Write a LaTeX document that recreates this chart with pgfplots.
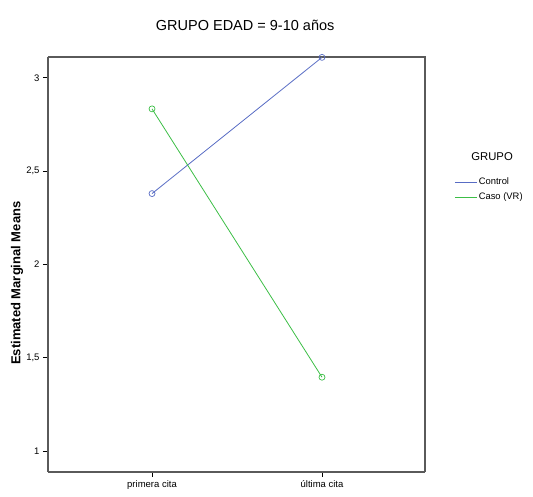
\documentclass[border=0pt]{standalone}
\usepackage{pgfplots}
\pgfplotsset{compat=1.18}
\usepackage{fontspec}
\setmainfont{Liberation Sans}
\definecolor{ctrl}{RGB}{88,108,196}
\definecolor{caso}{RGB}{60,190,70}
\definecolor{axgray}{RGB}{90,90,90}
\begin{document}
\begin{tikzpicture}[x=1pt,y=1pt]
\begin{axis}[
  name=ax,
  scale only axis, width=377pt, height=415pt,
  xmin=-0.612, xmax=1.606,
  ymin=0.888, ymax=3.112,
  xtick={0,1}, xticklabels={primera cita, última cita},
  ytick={1,1.5,2,2.5,3},
  /pgf/number format/use comma,
  /pgf/number format/assume math mode=true,
  tick label style={font=\fontsize{9.5}{11}\selectfont, text=black},
  axis line style={axgray, line width=1.3pt},
  axis x line*=bottom, axis y line*=left,
  tick align=outside, major tick length=5pt,
  tick style={black, line width=0.8pt},
  clip=false,
  legend style={at={(1.075,0.715)}, anchor=north west, draw=none, fill=none,
    font=\fontsize{9.4}{11}\selectfont, row sep=3.5pt, inner sep=1pt,
    nodes={inner sep=1.5pt}},
  legend cell align=left,
]
\draw[axgray, line width=1.3pt] (rel axis cs:0,1) -- (rel axis cs:1,1) -- (rel axis cs:1,0);
\addplot[ctrl, line width=0.8pt, mark=o, mark size=3pt, mark options={line width=0.7pt}, forget plot]
  coordinates {(0,2.38) (1,3.11)};
\addplot[caso, line width=0.8pt, mark=o, mark size=3pt, mark options={line width=0.7pt}, forget plot]
  coordinates {(0,2.834) (1,1.396)};
\addlegendimage{legend image code/.code={\draw[ctrl, line width=0.8pt] (0pt,0pt) -- (22pt,0pt);}}
\addlegendentry{Control}
\addlegendimage{legend image code/.code={\draw[caso, line width=0.8pt] (0pt,0pt) -- (22pt,0pt);}}
\addlegendentry{Caso (VR)}
\node[font=\fontsize{11.3}{13}\selectfont] at (rel axis cs:1.178,0.76) {GRUPO};
\node[font=\fontsize{14.5}{16}\selectfont] at (rel axis cs:0.523,1.077) {GRUPO EDAD = 9-10 años};
\node[font=\fontsize{13}{15}\selectfont\bfseries, rotate=90] at (rel axis cs:-0.082,0.455) {Estimated Marginal Means};
\end{axis}
\pgfresetboundingbox
\path[shift={(ax.south west)}] (-48pt,-25pt) rectangle (485pt,472pt);
\end{tikzpicture}
\end{document}
